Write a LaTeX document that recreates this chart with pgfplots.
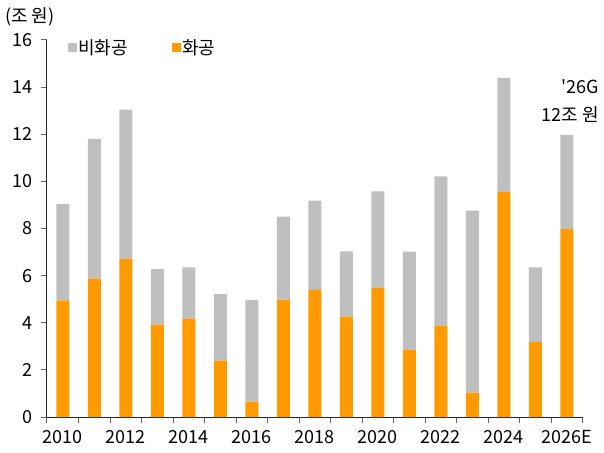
\documentclass[border=0pt]{standalone}
\usepackage{fontspec}
\setmainfont{Noto Sans CJK KR}
\usepackage{pgfplots}
\pgfplotsset{compat=1.18}
\definecolor{org}{HTML}{FF9B00}
\definecolor{gry}{HTML}{BFBFBF}
\begin{document}
\fontsize{18}{28}\selectfont
\begin{tikzpicture}
\useasboundingbox (-47pt,-35pt) rectangle (557pt,417pt);
\begin{axis}[at={(0,0)}, anchor=south west, scale only axis,
  width=535.5pt, height=377pt,
  ybar stacked, bar width=13pt,
  xmin=-0.5, xmax=16.5, ymin=0, ymax=16,
  axis x line*=bottom, axis y line*=left,
  axis line style={draw=black!85, line width=1pt},
  xtick={0,2,...,16},
  xticklabels={2010,2012,2014,2016,2018,2020,2022,2024,2026E},
  minor xtick={-0.5,0.5,...,16.5},
  major x tick style={draw=none},
  minor x tick style={draw=black!60, line width=1pt},
  ytick={0,2,...,16},
  y tick style={draw=black!60, line width=1pt},
  tick align=outside, major tick length=6pt, minor tick length=6pt,
  /pgf/number format/assume math mode=true,
  ticklabel style={font=\fontsize{18}{20}\selectfont},
  yticklabel style={xshift=-2pt},
  xticklabel style={yshift=-1pt},
  clip=false,
]
\addplot[fill=org, draw=none] coordinates {
(0,4.95) (1,5.87) (2,6.72) (3,3.92) (4,4.17) (5,2.39) (6,0.65) (7,4.98) (8,5.40)
(9,4.26) (10,5.49) (11,2.86) (12,3.88) (13,1.03) (14,9.56) (15,3.18) (16,7.98)};
\addplot[fill=gry, draw=none] coordinates {
(0,4.08) (1,5.93) (2,6.33) (3,2.36) (4,2.18) (5,2.83) (6,4.32) (7,3.52) (8,3.78)
(9,2.77) (10,4.09) (11,4.16) (12,6.33) (13,7.73) (14,4.83) (15,3.17) (16,3.99)};
\end{axis}
\fill[gry] (21pt,365pt) rectangle (30pt,374pt);
\node[anchor=west, inner sep=0pt] at (31pt,369.5pt) {비화공};
\fill[org] (125pt,365pt) rectangle (134pt,374pt);
\node[anchor=west, inner sep=0pt] at (135pt,369.5pt) {화공};
\node[anchor=west, inner sep=0pt] at (-42pt,400pt) {(조 원)};
\node[anchor=north east, align=right, inner sep=0pt] at (552pt,338pt) {\textquotesingle 26G\\12조 원};
\end{tikzpicture}
\end{document}
